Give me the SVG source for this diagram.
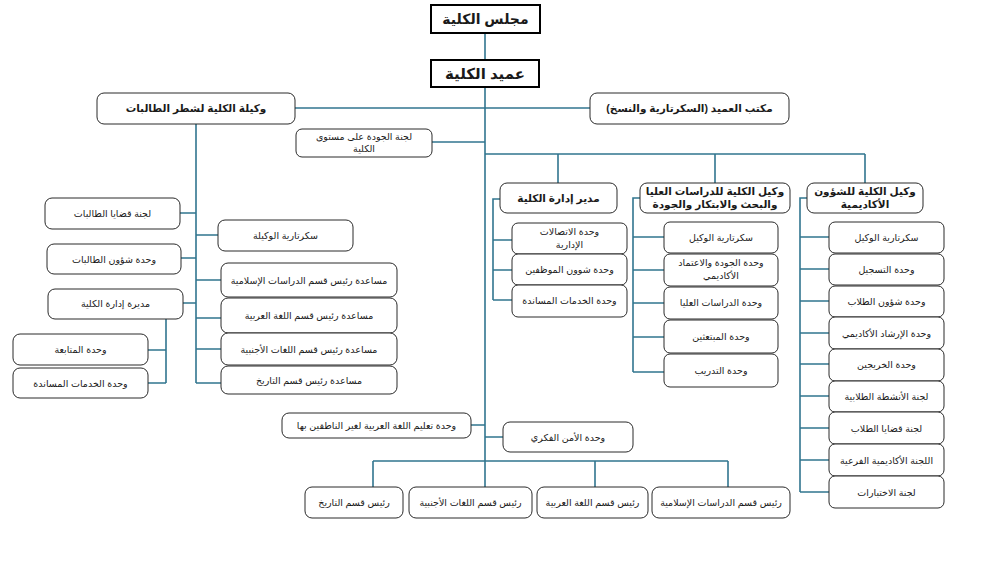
<svg xmlns="http://www.w3.org/2000/svg" width="1000" height="563" viewBox="0 0 1000 563">
<style>
.bg{fill:#fff}
.c{stroke:#31758f;stroke-width:1.6;fill:none}
.b{fill:#fff;stroke:#2a2a2a;stroke-width:1}
.sq{fill:#fff;stroke:#000;stroke-width:2}
text{font-family:"Liberation Sans","DejaVu Sans",sans-serif;fill:#1a1a1a;text-anchor:middle;direction:rtl;unicode-bidi:embed}
.t{font-size:9.5px}
.h{font-size:10.5px;font-weight:bold}
.top{font-size:14px;font-weight:bold}
</style>
<rect class="bg" x="0" y="0" width="1000" height="563"/>
<g id="connectors">
<path class="c" d="M485,33V60M485,87V487"/>
<path class="c" d="M295,108H590"/>
<path class="c" d="M432,142H485"/>
<path class="c" d="M485,154H865M558,154V183M715,154V183M865,154V183"/>
<path class="c" d="M500,199H493V300M493,240H512M493,270H512M493,300H512"/>
<path class="c" d="M640,198H633V372M633,237H664M633,270H664M633,303H664M633,337H664M633,372H664"/>
<path class="c" d="M807,198H800V492M800,237H829M800,269H829M800,301H829M800,333H829M800,364H829M800,396H829M800,428H829M800,460H829M800,492H829"/>
<path class="c" d="M196,124V383M180,213H196M196,235H218M181,258H196M183,303H196M196,280H221M196,318H221M196,349H221M196,383H221"/>
<path class="c" d="M166,319V383M148,350H166M148,383H166"/>
<path class="c" d="M471,425H485M485,437H503"/>
<path class="c" d="M373,461H728M373,461V487M595,461V487M728,461V487"/>
</g>
<g id="n-council"><rect class="sq" x="431" y="5" width="109" height="28"/><text class="top" x="485.5" y="24">مجلس الكلية</text></g>
<g id="n-dean"><rect class="sq" x="431" y="60" width="108" height="27"/><text class="top" x="485" y="79" style="font-size:15px">عميد الكلية</text></g>
<g id="n-office"><rect class="b" x="590" y="93" width="199" height="31" rx="7"/><text class="h" x="689.5" y="112">مكتب العميد (السكرتارية والنسخ)</text></g>
<g id="n-female"><rect class="b" x="97" y="93" width="198" height="31" rx="7"/><text class="h" x="196" y="112">وكيلة الكلية لشطر الطالبات</text></g>
<g id="n-quality"><rect class="b" x="296" y="129" width="136" height="28" rx="6"/><text class="t" x="364" y="140">لجنة الجودة على مستوى</text><text class="t" x="364" y="152">الكلية</text></g>

<g id="n-admin"><rect class="b" x="500" y="183" width="117" height="30" rx="7"/><text class="h" x="558.5" y="202">مدير إدارة الكلية</text></g>
<g id="n-admin-1"><rect class="b" x="512" y="223" width="115" height="31" rx="6"/><text class="t" x="569.5" y="235">وحدة الاتصالات</text><text class="t" x="569.5" y="248">الإدارية</text></g>
<g id="n-admin-2"><rect class="b" x="512" y="254" width="115" height="31" rx="6"/><text class="t" x="569.5" y="273">وحدة شوون الموظفين</text></g>
<g id="n-admin-3"><rect class="b" x="512" y="285" width="115" height="32" rx="6"/><text class="t" x="569.5" y="304">وحدة الخدمات المساندة</text></g>

<g id="n-grad"><rect class="b" x="640" y="183" width="150" height="30" rx="7"/><text class="h" x="715" y="195">وكيل الكلية للدراسات العليا</text><text class="h" x="715" y="208">والبحث والابتكار والجودة</text></g>
<g id="n-grad-1"><rect class="b" x="664" y="222" width="114" height="31" rx="6"/><text class="t" x="721" y="241">سكرتارية الوكيل</text></g>
<g id="n-grad-2"><rect class="b" x="664" y="254" width="114" height="32" rx="6"/><text class="t" x="721" y="266">وحدة الجودة والاعتماد</text><text class="t" x="721" y="279">الأكاديمي</text></g>
<g id="n-grad-3"><rect class="b" x="664" y="287" width="114" height="32" rx="6"/><text class="t" x="721" y="306">وحدة الدراسات العليا</text></g>
<g id="n-grad-4"><rect class="b" x="664" y="320" width="114" height="33" rx="6"/><text class="t" x="721" y="340">وحدة المبتعثين</text></g>
<g id="n-grad-5"><rect class="b" x="664" y="354" width="114" height="33" rx="6"/><text class="t" x="721" y="374">وحدة التدريب</text></g>

<g id="n-acad"><rect class="b" x="807" y="183" width="116" height="30" rx="7"/><text class="h" x="865" y="195">وكيل الكلية للشؤون</text><text class="h" x="865" y="208">الأكاديمية</text></g>
<g id="n-acad-1"><rect class="b" x="829" y="222" width="115" height="31" rx="6"/><text class="t" x="886.5" y="241">سكرتارية الوكيل</text></g>
<g id="n-acad-2"><rect class="b" x="829" y="254" width="115" height="31" rx="6"/><text class="t" x="886.5" y="273">وحدة التسجيل</text></g>
<g id="n-acad-3"><rect class="b" x="829" y="286" width="115" height="31" rx="6"/><text class="t" x="886.5" y="305">وحدة شؤون الطلاب</text></g>
<g id="n-acad-4"><rect class="b" x="829" y="317" width="115" height="32" rx="6"/><text class="t" x="886.5" y="337">وحدة الإرشاد الأكاديمي</text></g>
<g id="n-acad-5"><rect class="b" x="829" y="349" width="115" height="32" rx="6"/><text class="t" x="886.5" y="368">وحدة الخريجين</text></g>
<g id="n-acad-6"><rect class="b" x="829" y="381" width="115" height="31" rx="6"/><text class="t" x="886.5" y="400">لجنة الأنشطة الطلابية</text></g>
<g id="n-acad-7"><rect class="b" x="829" y="412" width="115" height="32" rx="6"/><text class="t" x="886.5" y="432">لجنة قضايا الطلاب</text></g>
<g id="n-acad-8"><rect class="b" x="829" y="444" width="115" height="32" rx="6"/><text class="t" x="886.5" y="464">اللجنة الأكاديمية الفرعية</text></g>
<g id="n-acad-9"><rect class="b" x="829" y="476" width="115" height="32" rx="6"/><text class="t" x="886.5" y="496">لجنة الاختبارات</text></g>

<g id="n-f-cases"><rect class="b" x="45" y="198" width="135" height="31" rx="7"/><text class="t" x="112.5" y="217">لجنة قضايا الطالبات</text></g>
<g id="n-f-sec"><rect class="b" x="218" y="220" width="135" height="31" rx="7"/><text class="t" x="285.5" y="239">سكرتارية الوكيلة</text></g>
<g id="n-f-affairs"><rect class="b" x="47" y="244" width="134" height="30" rx="7"/><text class="t" x="114" y="263">وحدة شؤون الطالبات</text></g>
<g id="n-f-admin"><rect class="b" x="48" y="289" width="135" height="30" rx="7"/><text class="t" x="115.5" y="307">مديرة إدارة الكلية</text></g>
<g id="n-f-follow"><rect class="b" x="13" y="334" width="135" height="31" rx="7"/><text class="t" x="80.5" y="353">وحدة المتابعة</text></g>
<g id="n-f-support"><rect class="b" x="13" y="368" width="135" height="30" rx="7"/><text class="t" x="80.5" y="387">وحدة الخدمات المساندة</text></g>
<g id="n-f-isl"><rect class="b" x="221" y="263" width="176" height="34" rx="7"/><text class="t" x="309" y="284">مساعدة رئيس قسم الدراسات الإسلامية</text></g>
<g id="n-f-ar"><rect class="b" x="221" y="298" width="176" height="35" rx="7"/><text class="t" x="309" y="319">مساعدة رئيس قسم اللغة العربية</text></g>
<g id="n-f-fl"><rect class="b" x="221" y="333" width="176" height="32" rx="7"/><text class="t" x="309" y="353">مساعدة رئيس قسم اللغات الأجنبية</text></g>
<g id="n-f-hist"><rect class="b" x="221" y="366" width="176" height="28" rx="7"/><text class="t" x="309" y="384">مساعدة رئيس قسم التاريخ</text></g>

<g id="n-arabic-nn"><rect class="b" x="282" y="413" width="189" height="25" rx="7"/><text class="t" x="376.5" y="429">وحدة تعليم اللغة العربية لغير الناطقين بها</text></g>
<g id="n-security"><rect class="b" x="503" y="422" width="130" height="30" rx="7"/><text class="t" x="568" y="441">وحدة الأمن الفكري</text></g>
<g id="n-h-hist"><rect class="b" x="305" y="487" width="98" height="31" rx="7"/><text class="t" x="354" y="506">رئيس قسم التاريخ</text></g>
<g id="n-h-fl"><rect class="b" x="409" y="487" width="123" height="31" rx="7"/><text class="t" x="470.5" y="506">رئيس قسم اللغات الأجنبية</text></g>
<g id="n-h-ar"><rect class="b" x="537" y="487" width="111" height="31" rx="7"/><text class="t" x="592.5" y="506">رئيس قسم اللغة العربية</text></g>
<g id="n-h-isl"><rect class="b" x="652" y="487" width="138" height="31" rx="7"/><text class="t" x="721" y="506">رئيس قسم الدراسات الإسلامية</text></g>
</svg>
